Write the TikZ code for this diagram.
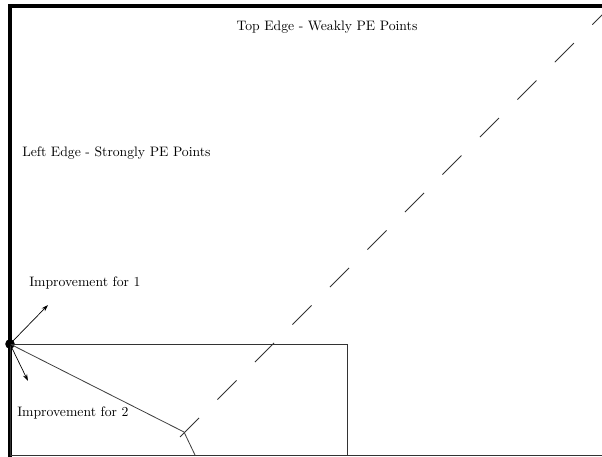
\documentclass[tikz,border=0pt]{standalone}
\usetikzlibrary{arrows.meta}

\begin{document}
\begin{tikzpicture}[
  x=0.73pt,
  y=-0.73pt,
  edge/.style={line width=3pt,line cap=rect},
  frame/.style={line width=.7pt,black!80},
  path/.style={line width=.6pt,black!75},
  gain/.style={line width=.5pt,-{Stealth[length=5pt,width=3.2pt]}},
  diag/.style={line width=.6pt,black!80,dash pattern=on 19.7pt off 19pt},
  txt/.style={inner sep=0pt}
]
  \useasboundingbox (0,0) rectangle (602,457);

  % Thick left and top edges of the set, thin bottom edge.
  \coordinate (low left) at (10,457);
  \coordinate (top right) at (602,6);
  \draw[edge] (low left) |- (top right);
  \draw[frame] (10,455) -- (602,455);

  % Point on the left edge and its box.
  \node[circle,fill,inner sep=0pt,minimum size=7pt] (pt) at (10,344) {};
  \draw[frame] (pt.center) rectangle (347,455);

  % Dashed diagonal through the projected point.
  \coordinate (foot) at (184,432);
  \coordinate (ground) at (195,455);
  \coordinate (diag start) at (180,437);
  \coordinate (diag end) at (604,13);
  \draw[diag] (diag start) -- (diag end);
  \draw[path] (pt.center) -- (foot) -- (ground);

  % Improvement directions.
  \coordinate (dir one) at (48,305);
  \coordinate (dir two) at (28,381);
  \draw[gain] (pt.center) -- (dir one);
  \draw[gain] (pt.center) -- (dir two);

  \node[txt] (top) at (327,27) {Top Edge - Weakly PE Points};
  \node[txt,anchor=west] (left) at (22,153) {Left Edge - Strongly PE Points};
  \node[txt,anchor=west] (imp one) at (29,283) {Improvement for 1};
  \node[txt,anchor=west] (imp two) at (17,413) {Improvement for 2};
\end{tikzpicture}
\end{document}
